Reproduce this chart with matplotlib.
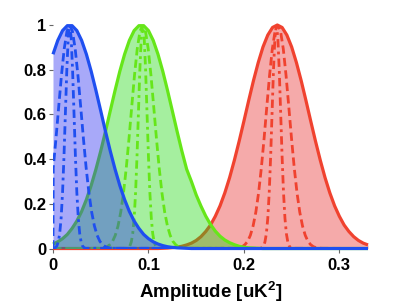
import numpy as np
import matplotlib
matplotlib.use("Agg")
import matplotlib.pyplot as plt

plt.rcParams["font.family"] = ["Liberation Sans", "DejaVu Sans"]
plt.rcParams["mathtext.fontset"] = "custom"
plt.rcParams["mathtext.rm"] = "Liberation Sans:bold"
plt.rcParams["mathtext.bf"] = "Liberation Sans:bold"
plt.rcParams["mathtext.default"] = "bf"

# amplitude grid of the wide posteriors
amp = np.round(np.arange(0, 0.3301, 0.005), 4)

blue_wide = [0.869, 0.931, 0.975, 0.997, 0.997, 0.975, 0.931, 0.869, 0.793, 0.707,
             0.616, 0.524, 0.436, 0.355, 0.282, 0.219, 0.166, 0.123, 0.090, 0.063,
             0.044, 0.030, 0.020, 0.013, 0.008, 0.005, 0.003, 0.002, 0.001] + [0] * 38
green_wide = [0.020, 0.030, 0.044, 0.063, 0.090, 0.123, 0.166, 0.219, 0.282, 0.355,
              0.436, 0.524, 0.616, 0.707, 0.793, 0.869, 0.931, 0.975, 0.997, 0.997,
              0.975, 0.931, 0.869, 0.793, 0.707, 0.616, 0.524, 0.436, 0.355, 0.300,
              0.240, 0.190, 0.145, 0.108, 0.078, 0.055, 0.038, 0.026, 0.017, 0.010,
              0.006, 0.003, 0.002, 0.001] + [0] * 23
red_wide = [0] * 23 + [0.001, 0.002, 0.004, 0.006, 0.010, 0.016, 0.024, 0.036, 0.053, 0.076,
                       0.105, 0.144, 0.191, 0.249, 0.317, 0.395, 0.480, 0.570, 0.662, 0.751,
                       0.832, 0.902, 0.955, 0.989, 1.000, 0.989, 0.955, 0.902, 0.832, 0.751,
                       0.662, 0.570, 0.480, 0.395, 0.317, 0.249, 0.191, 0.144, 0.105, 0.076,
                       0.053, 0.036, 0.024, 0.016]

# narrower posteriors (dashed and dash-dot)
dash_vals = [0.001, 0.002, 0.004, 0.008, 0.017, 0.032, 0.059, 0.101, 0.163, 0.249,
             0.360, 0.492, 0.635, 0.775, 0.893, 0.972, 1.000, 0.972, 0.893, 0.775,
             0.635, 0.492, 0.360, 0.249, 0.163, 0.101, 0.059, 0.032, 0.017, 0.008,
             0.004, 0.002, 0.001]
dashdot_vals = [0.001, 0.004, 0.011, 0.029, 0.066, 0.135, 0.249, 0.411, 0.607, 0.801,
                0.946, 1.000, 0.946, 0.801, 0.607, 0.411, 0.249, 0.135, 0.066, 0.029,
                0.011, 0.004, 0.001]

blue_dash_x = np.linspace(-0.0285, 0.0635, 33)
blue_dashdot_x = np.linspace(0.001, 0.034, 23)
green_dash_x = np.linspace(0.048, 0.140, 33)
green_dashdot_x = np.linspace(0.0775, 0.1105, 23)
red_dash_x = np.linspace(0.1895, 0.2815, 33)
red_dashdot_x = np.linspace(0.2175, 0.2505, 23)

series = [
    ("#f0422f", "#e62b2b", red_wide, red_dash_x, red_dashdot_x),
    ("#66e619", "#1ed911", green_wide, green_dash_x, green_dashdot_x),
    ("#1f4ff0", "#262af2", blue_wide, blue_dash_x, blue_dashdot_x),
]

fig = plt.figure(figsize=(4.07, 3.05), dpi=100)
ax = fig.add_axes([0.1302, 0.1852, 0.774, 0.7328])

z = 1
for line_c, fill_c, wide, dx, ddx in series:
    ax.fill_between(amp, 0, wide, color=fill_c, alpha=0.4, lw=0, zorder=z)
    ax.plot(amp, wide, color=line_c, lw=2.3, zorder=z + 1, clip_on=False,
            solid_capstyle="butt")
    # pad the narrow curves with zeros over the full range
    x1 = np.concatenate([[0], dx, [0.33]])
    y1 = np.concatenate([[0], dash_vals, [0]])
    keep = x1 >= 0
    ax.plot(x1[keep], y1[keep], color=line_c, lw=2.0, ls=(0, (3, 1.5)), zorder=z + 1)
    x2 = np.concatenate([[0], ddx, [0.33]])
    y2 = np.concatenate([[0], dashdot_vals, [0]])
    ax.plot(x2, y2, color=line_c, lw=2.0, ls=(0, (3, 1.5, 1, 1.5)), zorder=z + 1)
    z += 2

ax.set_xlim(0, 0.33)
ax.set_ylim(0, 1)
ax.set_xticks([0, 0.1, 0.2, 0.3])
ax.set_xticklabels(["0", "0.1", "0.2", "0.3"])
ax.set_yticks([0, 0.2, 0.4, 0.6, 0.8, 1])
ax.set_yticklabels(["0", "0.2", "0.4", "0.6", "0.8", "1"])
for s in ax.spines.values():
    s.set_visible(False)
ax.tick_params(direction="out", length=3, width=0.8, color="#666666",
               labelsize=12)
ax.tick_params(axis="x", pad=4)
ax.tick_params(axis="y", pad=2)
for lab in ax.get_xticklabels() + ax.get_yticklabels():
    lab.set_fontweight("bold")
ax.set_xlabel("Amplitude [uK$^2$]", fontsize=13.5, fontweight="bold", labelpad=5)

fig.savefig("out.png", dpi=100)
